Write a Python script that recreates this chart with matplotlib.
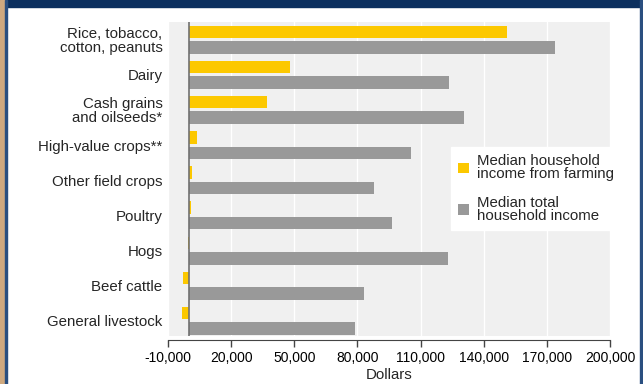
import matplotlib
matplotlib.use("Agg")
import matplotlib.pyplot as plt
from matplotlib.patches import Rectangle
import numpy as np

plt.rcParams['font.family'] = ['Liberation Sans', 'DejaVu Sans']

categories = ["Rice, tobacco,\ncotton, peanuts", "Dairy", "Cash grains\nand oilseeds*",
              "High-value crops**", "Other field crops", "Poultry", "Hogs",
              "Beef cattle", "General livestock"]
farm_income = [151000, 48000, 37000, 3600, 1200, 1100, -700, -2700, -3500]
total_income = [174000, 123500, 130500, 105500, 88000, 96500, 123000, 83000, 79000]
xticks = [-10000, 20000, 50000, 80000, 110000, 140000, 170000, 200000]

yellow = "#fcc800"
grey = "#999999"
txt = "#262626"
fs = 10.8

fig = plt.figure(figsize=(6.43, 3.84), dpi=100)
ax = fig.add_axes([0.2613, 0.125, 0.6874, 0.8177])
ax.set_facecolor("#f0f0f0")

y = np.arange(len(categories))
h = 0.355
off = 0.22
ax.barh(y - off, farm_income, height=h, color=yellow, label="Median household\nincome from farming", zorder=3)
ax.barh(y + off, total_income, height=h, color=grey, label="Median total\nhousehold income", zorder=3)

ax.axvline(0, color="#707070", lw=1.2, zorder=4)
ax.set_xlim(-10000, 200000)
ax.set_ylim(8.43, -0.5)
ax.set_xticks(xticks)
ax.set_xticklabels([f"{v:,}" for v in xticks], fontsize=fs, color=txt)
ax.xaxis.grid(True, color="white", lw=1.0, zorder=1)
ax.set_axisbelow(True)
ax.set_yticks(y)
ax.set_yticklabels(categories, fontsize=fs, color=txt, linespacing=0.95)
ax.tick_params(axis="y", length=0, pad=4)
ax.tick_params(axis="x", length=5, width=1, color="#444444", pad=3, direction="out")
for s in ["top", "right", "left"]:
    ax.spines[s].set_visible(False)
ax.spines["bottom"].set_position(("outward", 3))
ax.spines["bottom"].set_color("#444444")
ax.set_xlabel("Dollars", fontsize=fs, color=txt, labelpad=2)

leg = ax.legend(loc="upper left", bbox_to_anchor=(0.623, 0.625), frameon=True, fancybox=False,
                edgecolor="white", facecolor="white", framealpha=1, fontsize=fs,
                handlelength=0.75, handleheight=0.75, handletextpad=0.55, labelspacing=0.95,
                borderpad=0.45)
for t in leg.get_texts():
    t.set_linespacing(0.95)
    t.set_color(txt)

# page frame
fig.patches.append(Rectangle((0, 1 - 7 / 384), 1, 7 / 384, transform=fig.transFigure, color="#0b2f5e", zorder=0))
fig.patches.append(Rectangle((0, 0), 5 / 643, 1, transform=fig.transFigure, color="#cfa97f", zorder=0))
fig.patches.append(Rectangle((5 / 643, 0), 2 / 643, 1, transform=fig.transFigure, color="#2a4f80", zorder=0))
fig.patches.append(Rectangle((640 / 643, 0), 3 / 643, 1, transform=fig.transFigure, color="#2a4f80", zorder=0))

fig.savefig("out.png", dpi=100)
